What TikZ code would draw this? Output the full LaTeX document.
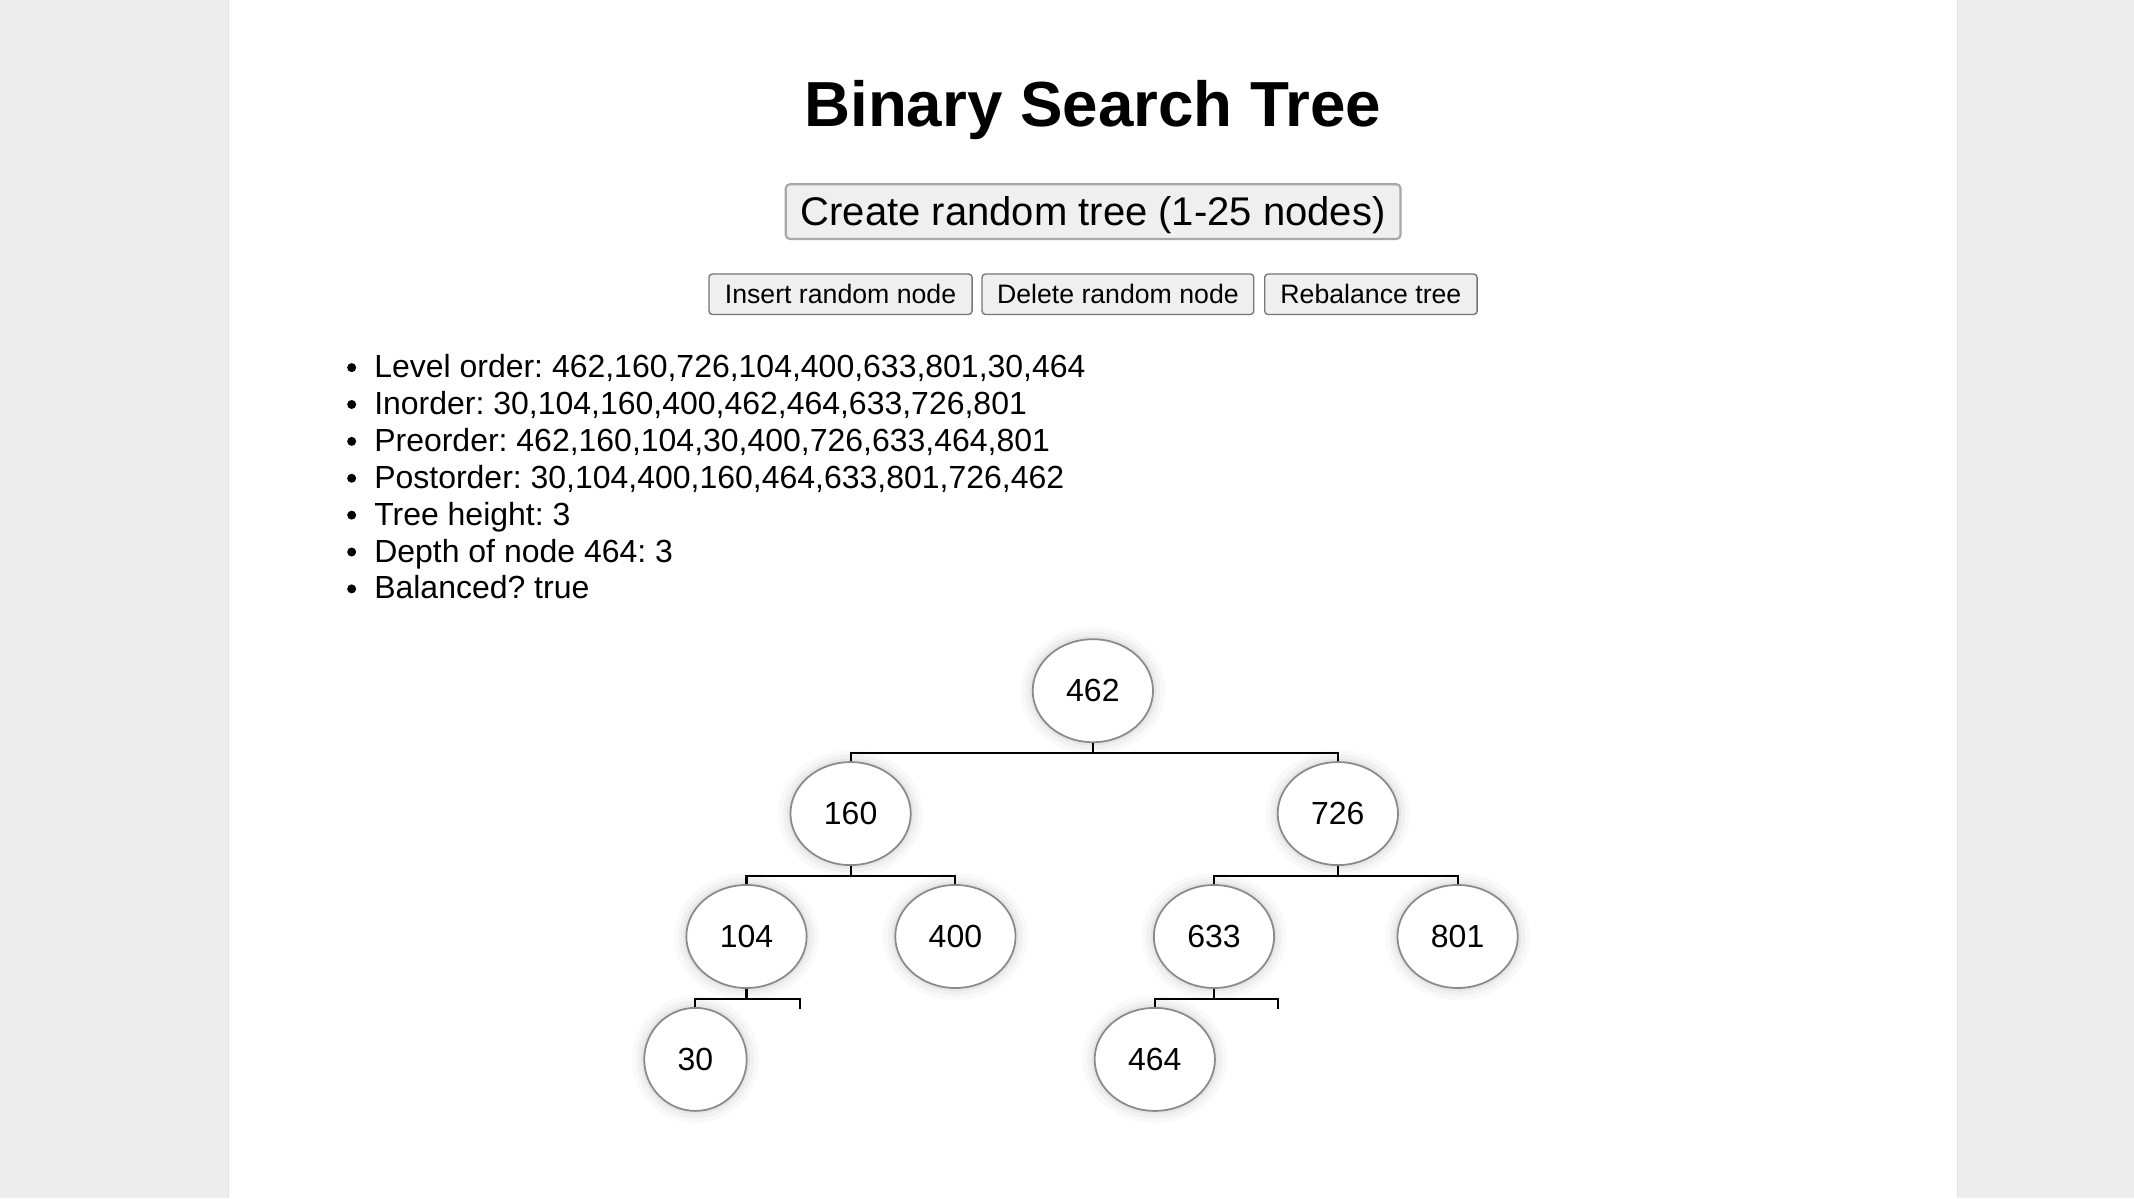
\documentclass[tikz,border=0pt]{standalone}
\usepackage{fontspec}
\setmainfont{Liberation Sans}
\usetikzlibrary{shapes.geometric}
\frenchspacing
\definecolor{pagegray}{HTML}{EDEDED}
\definecolor{pageedge}{HTML}{E0E0E0}
\definecolor{btnfill}{HTML}{EFEFEF}
\definecolor{btnedge}{HTML}{767676}
\definecolor{bigedge}{HTML}{A8A8A8}
\definecolor{nodeedge}{HTML}{8A8A8A}
\tikzset{
  treenode/.style={ellipse, draw=nodeedge, line width=1.3pt, fill=white,
    minimum width=88.4pt, minimum height=75.7pt, inner sep=0pt,
    font=\fontsize{23.5}{28}\selectfont,
    preaction={draw=black, draw opacity=0.022, line width=18pt},
    preaction={draw=black, draw opacity=0.03, line width=11pt},
    preaction={draw=black, draw opacity=0.04, line width=5pt}},
  smallbtn/.style={rectangle, rounded corners=2.5pt, draw=btnedge, line width=1pt, fill=btnfill,
    minimum height=29.7pt, inner sep=0pt, text height=14.03pt, text depth=0pt,
    font=\fontsize{19.6}{23}\selectfont},
  bigbtn/.style={rectangle, rounded corners=3pt, draw=bigedge, line width=1.6pt, fill=btnfill,
    minimum height=40.2pt, minimum width=451.7pt, inner sep=0pt, text height=21.05pt, text depth=0pt,
    font=\fontsize{29.4}{34}\selectfont},
  listline/.style={anchor=base west, inner sep=0pt, font=\fontsize{23.5}{28}\selectfont},
  bulletdot/.style={circle, fill=black, inner sep=0pt, minimum size=6.6pt},
  link/.style={line width=1.5pt, black},
}
\begin{document}
\begin{tikzpicture}[x=1pt,y=-1pt]
\useasboundingbox (0,0) rectangle (1568,880.3);
% page background
\fill[pagegray] (0,0) rectangle (1568,880.3);
\fill[white] (168,0) rectangle (1438,880.3);
\draw[pageedge, line width=0.8pt] (167.6,0) -- (167.6,880.3);
\draw[pageedge, line width=0.8pt] (1438.4,0) -- (1438.4,880.3);

% title
\node[anchor=base, inner sep=0pt, font=\fontsize{46.8}{52}\selectfont\bfseries] (title) at (803,92.6) {Binary Search Tree};

% buttons
\node[bigbtn] (create) at (803.2,155.5) {Create random tree (1-25 nodes)};
\node[smallbtn, minimum width=193.3pt] (insert) at (617.6,216.2) {Insert random node};
\node[smallbtn, minimum width=199.7pt] (delete) at (821.4,216.2) {Delete random node};
\node[smallbtn, minimum width=156.1pt] (rebal) at (1007.3,216.2) {Rebalance tree};

% list
\foreach \i/\t in {0/{Level order: 462,160,726,104,400,633,801,30,464},
                   1/{Inorder: 30,104,160,400,462,464,633,726,801},
                   2/{Preorder: 462,160,104,30,400,726,633,464,801},
                   3/{Postorder: 30,104,400,160,464,633,801,726,462},
                   4/{Tree height: 3},
                   5/{Depth of node 464: 3},
                   6/{Balanced? true}}{
  \node[bulletdot] (b\i) at (258.4,{277.5+27.1*\i-7.4}) {};
  \node[listline] (l\i) at (274.8,{277.5+27.1*\i}) {\t};
}

% tree nodes
\node[treenode] (n462) at (803,507.5) {462};
\node[treenode] (n160) at (625,597.8) {160};
\node[treenode] (n726) at (983,597.8) {726};
\node[treenode] (n104) at (548.5,688.1) {104};
\node[treenode] (n400) at (702,688.1) {400};
\node[treenode] (n633) at (892,688.1) {633};
\node[treenode] (n801) at (1071,688.1) {801};
\node[treenode, minimum width=75.3pt] (n30) at (511,778.4) {30};
\node[treenode] (n464) at (848.5,778.4) {464};

% junctions and empty child stubs
\coordinate (j462) at (803,553.2);
\coordinate (j160) at (625,643.5);
\coordinate (j726) at (983,643.5);
\coordinate (j104) at (548.5,733.8);
\coordinate (j633) at (892,733.8);
\coordinate (e104) at (588,741.2);
\coordinate (e633) at (939,741.2);

% connectors
\draw[link] (n462.south) -- (j462);
\draw[link] (n160.north) -- (n160.north |- j462) -- (n726.north |- j462) -- (n726.north);
\draw[link] (n160.south) -- (j160);
\draw[link] (n104.north) -- (n104.north |- j160) -- (n400.north |- j160) -- (n400.north);
\draw[link] (n726.south) -- (j726);
\draw[link] (n633.north) -- (n633.north |- j726) -- (n801.north |- j726) -- (n801.north);
\draw[link] (n104.south) -- (j104);
\draw[link] (n30.north) -- (n30.north |- j104) -- (e104 |- j104) -- (e104);
\draw[link] (n633.south) -- (j633);
\draw[link] (n464.north) -- (n464.north |- j633) -- (e633 |- j633) -- (e633);
\end{tikzpicture}
\end{document}
